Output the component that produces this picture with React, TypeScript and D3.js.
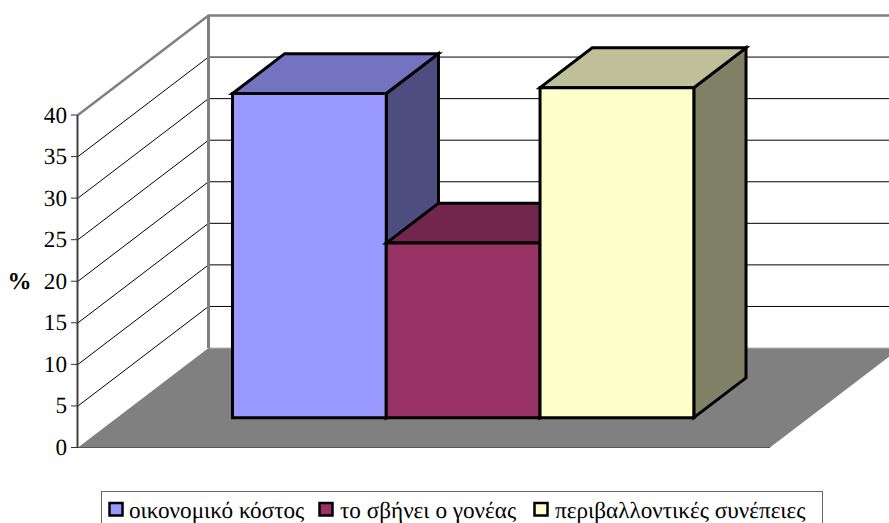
import React from "react";
import * as d3 from "d3";

const categories = ["οικονομικό κόστος", "το σβήνει ο γονέας", "περιβαλλοντικές συνέπειες"];
const values = [39, 21, 39.7];
const frontColors = ["#9999ff", "#993366", "#ffffcc"];
const topColors = ["#7373bf", "#73264d", "#bfbf99"];
const sideColors = ["#4d4d80", "#4d1a33", "#808066"];
const yTicks = [0, 5, 10, 15, 20, 25, 30, 35, 40];
const legendSwatchX = [109.5, 319.5, 534.5];
const legendTextX = [129, 340, 555];

const width = 889;
const height = 523;
const serif = '"Liberation Serif", serif';
const labelStyle = { fontFamily: serif, fontSize: 23.2, textRendering: "geometricPrecision" as const };

// Oblique projection: the front plane is offset towards the back wall by depth.
const x = d3.scaleBand<string>().domain(categories).range([78, 770]).paddingInner(0).paddingOuter(0.75);
const y = d3.scaleLinear().domain([0, 40]).range([447.5, 115]);
const depthX = d3.scaleLinear().domain([0, 1]).range([0, 130.5]);
const depthY = d3.scaleLinear().domain([0, 1]).range([0, -99.5]);
const barNear = 0.3;
const barFar = 0.7;

const pt = (px: number, value: number, depth: number): [number, number] => [
  px + depthX(depth),
  y(value) + depthY(depth),
];
const path = (pts: [number, number][]) => d3.line()(pts) + "Z";

const xStart = x.range()[0];
const xEnd = x.range()[1];

export default function App() {
  const band = x.bandwidth();
  return (
    <svg
      width={width}
      height={height}
      style={{ position: "fixed", left: 0, top: 0, background: "#fff", display: "block" }}
    >
      {/* floor */}
      <path d={path([pt(xStart, 0, 0), pt(xStart, 0, 1), pt(xEnd, 0, 1), pt(xEnd, 0, 0)])} fill="#808080" />
      <line x1={xStart} x2={xEnd} y1={y(0)} y2={y(0)} stroke="#555" strokeWidth={1} />
      <line x1={pt(xStart, 0, 1)[0]} x2={width} y1={y(0) - 99.5} y2={y(0) - 99.5} stroke="#b0b0b0" strokeWidth={1} />

      {/* gridlines on the side and back walls */}
      {yTicks.slice(1, -1).map((t) => (
        <g key={t} stroke="#000" strokeWidth={1} fill="none">
          <path d={d3.line()([pt(xStart, t, 0), pt(xStart, t, 1), [width, y(t) - 99.5]]) as string} />
        </g>
      ))}

      {/* wall outline */}
      <path
        d={d3.line()([pt(xStart, 40, 0), pt(xStart, 40, 1), [width, y(40) - 99.5]]) as string}
        fill="none"
        stroke="#808080"
        strokeWidth={2.5}
      />
      <line
        x1={pt(xStart, 0, 1)[0]}
        x2={pt(xStart, 0, 1)[0]}
        y1={pt(xStart, 40, 1)[1]}
        y2={pt(xStart, 0, 1)[1]}
        stroke="#808080"
        strokeWidth={3}
      />

      {/* value axis */}
      <line x1={xStart - 0.5} x2={xStart - 0.5} y1={y(40)} y2={y(0)} stroke="#404040" strokeWidth={2} />
      {yTicks.map((t) => (
        <g key={t}>
          <line x1={71} x2={xStart} y1={y(t)} y2={y(t)} stroke="#333" strokeWidth={1} />
          <text x={67} y={y(t) + 7.5} textAnchor="end" style={labelStyle} fill="#000">
            {t}
          </text>
        </g>
      ))}
      <text x={19.5} y={289} textAnchor="middle" style={{ ...labelStyle, fontSize: 24, fontWeight: "bold" }} fill="#000">
        %
      </text>

      {/* bars */}
      {categories.map((c, i) => {
        const x0 = x(c) as number;
        const x1 = x0 + band;
        const v = values[i];
        const stroke = { stroke: "#000", strokeWidth: 3, strokeLinejoin: "miter" as const };
        return (
          <g key={c}>
            <path d={path([pt(x1, 0, barNear), pt(x1, 0, barFar), pt(x1, v, barFar), pt(x1, v, barNear)])} fill={sideColors[i]} {...stroke} />
            <path d={path([pt(x0, v, barNear), pt(x0, v, barFar), pt(x1, v, barFar), pt(x1, v, barNear)])} fill={topColors[i]} {...stroke} />
            <path d={path([pt(x0, 0, barNear), pt(x1, 0, barNear), pt(x1, v, barNear), pt(x0, v, barNear)])} fill={frontColors[i]} {...stroke} />
          </g>
        );
      })}

      {/* legend */}
      <rect x={101.5} y={491.5} width={721} height={40} fill="#fff" stroke="#666" strokeWidth={1} />
      {categories.map((c, i) => (
        <g key={c}>
          <rect x={legendSwatchX[i]} y={503} width={13} height={12.5} fill={frontColors[i]} stroke="#000" strokeWidth={2.5} />
          <text x={legendTextX[i]} y={518} style={labelStyle} fill="#000">
            {c}
          </text>
        </g>
      ))}
    </svg>
  );
}
